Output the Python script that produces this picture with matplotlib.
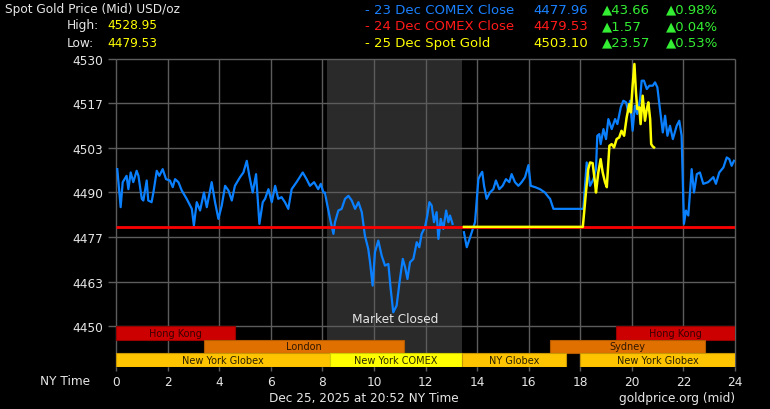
import numpy as np
import matplotlib
matplotlib.use("Agg")
import matplotlib.pyplot as plt

# ---------------- data ----------------
y_tick_values = [4530, 4516.67, 4503.33, 4490, 4476.67, 4463.33, 4450]
y_tick_labels = ["4530", "4517", "4503", "4490", "4477", "4463", "4450"]
x_tick_values = list(range(0, 25, 2))

prev_close = 4479.53   # 24 Dec COMEX close
closed_start, closed_end = 8.18, 13.42

blue_a_hours = [0.05, 0.18, 0.26, 0.41, 0.48, 0.57, 0.67, 0.80, 0.87, 1.00, 1.06, 1.19, 1.25,
                1.38, 1.45, 1.58, 1.68, 1.81, 1.94, 2.09, 2.20, 2.29, 2.42, 2.55, 2.74, 2.94,
                3.02, 3.13, 3.26, 3.41, 3.52, 3.71, 3.84, 3.97, 4.10, 4.23, 4.36, 4.49, 4.61,
                4.81, 4.94, 5.07, 5.17, 5.30, 5.43, 5.56, 5.69, 5.78, 5.91, 6.04, 6.17, 6.29,
                6.42, 6.55, 6.68, 6.81, 7.00, 7.24, 7.39, 7.52, 7.68, 7.84, 7.94, 8.04, 8.10,
                8.17, 8.30, 8.43, 8.49, 8.62, 8.75, 8.88, 9.01, 9.14, 9.27, 9.40, 9.53, 9.65,
                9.78, 9.85, 9.95, 10.04, 10.17, 10.30, 10.43, 10.56, 10.65, 10.75, 10.88,
                11.01, 11.12, 11.21, 11.30, 11.40, 11.53, 11.66, 11.76, 11.85, 11.98, 12.07,
                12.15, 12.24, 12.33, 12.43, 12.50, 12.59, 12.69, 12.80, 12.89, 12.95, 13.05]
blue_a_values = [4497.0, 4485.6, 4493.1, 4495.0, 4491.0, 4496.0, 4493.1, 4496.5, 4495.0, 4488.1,
                 4487.6, 4493.6, 4487.6, 4487.1, 4490.0, 4496.5, 4495.0, 4497.0, 4494.0, 4493.6,
                 4491.6, 4494.0, 4493.1, 4490.6, 4488.1, 4485.1, 4480.1, 4487.1, 4484.6, 4490.0,
                 4485.6, 4493.1, 4487.1, 4482.1, 4486.1, 4492.0, 4490.6, 4487.6, 4492.0, 4494.6,
                 4496.0, 4499.5, 4495.0, 4490.0, 4495.5, 4480.6, 4487.1, 4488.1, 4491.0, 4487.1,
                 4492.0, 4488.1, 4488.6, 4487.1, 4485.1, 4491.0, 4493.1, 4496.0, 4494.0, 4492.0,
                 4493.1, 4491.0, 4492.6, 4490.0, 4490.0, 4487.1, 4482.1, 4477.6, 4481.1, 4484.6,
                 4485.1, 4488.1, 4489.0, 4487.6, 4485.1, 4487.1, 4484.1, 4477.1, 4473.1, 4469.1,
                 4462.1, 4472.1, 4475.6, 4471.1, 4468.1, 4468.6, 4461.1, 4454.1, 4456.1, 4464.1,
                 4470.1, 4467.6, 4464.1, 4469.1, 4470.1, 4475.1, 4473.6, 4477.6, 4479.6, 4483.1,
                 4487.1, 4486.1, 4481.1, 4484.1, 4476.1, 4482.1, 4479.1, 4484.6, 4481.1, 4483.1,
                 4480.6]

blue_b_hours = [13.49, 13.60, 13.73, 13.92, 14.05, 14.14, 14.20, 14.27, 14.37, 14.50, 14.63,
                14.73, 14.86, 14.99, 15.12, 15.25, 15.34, 15.47, 15.60, 15.73, 15.86, 15.99,
                16.08, 16.25, 16.44, 16.63, 16.77, 16.83, 16.96, 18.12, 18.25, 18.38, 18.51,
                18.61, 18.66, 18.74, 18.79, 18.90, 19.00, 19.09, 19.22, 19.35, 19.44, 19.57,
                19.67, 19.78, 19.86, 19.93, 20.03, 20.12, 20.21, 20.32, 20.38, 20.47, 20.58,
                20.68, 20.81, 20.90, 20.99, 21.09, 21.20, 21.29, 21.38, 21.48, 21.59, 21.74,
                21.84, 21.93, 22.02, 22.10, 22.19, 22.32, 22.41, 22.52, 22.64, 22.77, 22.96,
                23.16, 23.26, 23.39, 23.55, 23.68, 23.78, 23.87, 23.96]
blue_b_values = [4478.1, 4473.6, 4476.6, 4481.1, 4494.0, 4495.5, 4496.2, 4492.0, 4488.1, 4490.0,
                 4491.0, 4493.6, 4491.0, 4492.0, 4494.0, 4493.1, 4495.5, 4493.1, 4492.0, 4493.1,
                 4494.6, 4498.2, 4492.0, 4491.6, 4491.0, 4490.0, 4488.6, 4488.1, 4485.1, 4485.1,
                 4499.0, 4492.0, 4494.0, 4497.0, 4507.0, 4507.5, 4504.5, 4509.0, 4506.0, 4512.0,
                 4509.0, 4512.0, 4510.5, 4515.5, 4517.5, 4517.0, 4514.0, 4517.5, 4508.5, 4516.0,
                 4513.5, 4518.0, 4523.5, 4523.5, 4521.0, 4522.0, 4522.0, 4523.0, 4521.5, 4515.0,
                 4508.0, 4513.0, 4507.0, 4510.0, 4506.0, 4510.0, 4511.5, 4507.0, 4480.6, 4484.6,
                 4483.1, 4497.0, 4490.0, 4495.5, 4496.0, 4492.6, 4493.1, 4494.6, 4492.6, 4496.0,
                 4497.5, 4500.5, 4500.0, 4498.0, 4499.5]

yellow_hours = [13.49, 18.10, 18.15, 18.22, 18.31, 18.38, 18.48, 18.57, 18.61, 18.70, 18.79,
                18.87, 18.96, 19.03, 19.13, 19.22, 19.31, 19.41, 19.51, 19.60, 19.70, 19.80,
                19.90, 19.96, 20.03, 20.10, 20.16, 20.21, 20.29, 20.34, 20.42, 20.51, 20.58,
                20.64, 20.71, 20.75, 20.81, 20.86]
yellow_values = [4479.7, 4479.7, 4484.0, 4490.0, 4497.0, 4499.0, 4498.8, 4493.1, 4490.0, 4496.0,
                 4500.0, 4496.0, 4493.1, 4491.6, 4504.0, 4504.5, 4503.5, 4506.0, 4506.5, 4508.5,
                 4507.0, 4512.5, 4516.5, 4514.0, 4522.0, 4528.5, 4520.0, 4515.0, 4515.5, 4510.5,
                 4519.0, 4511.5, 4515.0, 4517.0, 4512.0, 4504.5, 4503.8, 4503.5]

session_names = ["Hong Kong", "Hong Kong", "London", "Sydney",
                 "New York Globex", "New York COMEX", "NY Globex", "New York Globex"]
session_starts = [0.0, 19.39, 3.41, 16.83, 0.0, 8.30, 13.42, 18.0]
session_ends = [4.61, 24.0, 11.18, 22.85, 8.30, 13.42, 17.43, 24.0]
session_rows = [0, 0, 1, 1, 2, 2, 2, 2]

legend_labels = ["- 23 Dec COMEX Close", "- 24 Dec COMEX Close", "- 25 Dec Spot Gold"]
legend_prices = ["4477.96", "4479.53", "4503.10"]
legend_changes = ["\u25b243.66", "\u25b21.57", "\u25b223.57"]
legend_pcts = ["\u25b20.98%", "\u25b20.04%", "\u25b20.53%"]

high_value = "4528.95"
low_value = "4479.53"

# ---------------- styling ----------------
W, H = 770, 410
BG = "black"
GRID = "#5c5c5c"
TXT = "#e6e6e6"
BLUE = "#0a80ff"
RED = "#ff0000"
YEL = "#ffff00"
GREEN = "#33ee33"
FS = 8.7

fig = plt.figure(figsize=(W / 100, H / 100), dpi=100, facecolor=BG)
L, R, T, B = 116, 735, 60, 368
ax = fig.add_axes([L / W, (H - B) / H, (R - L) / W, (B - T) / H])
ax.set_facecolor(BG)
for s in ax.spines.values():
    s.set_visible(False)

ymax = 4530
per_px = 80 / 267.0
ymin = ymax - (B - T) * per_px
band_edges = [4450, ymax - (341 - T) * per_px, ymax - (354 - T) * per_px, ymin]
ax.set_xlim(0, 24)
ax.set_ylim(ymin, ymax)

# closed-market shade
ax.fill_between([closed_start, closed_end], band_edges[2], ymax, color="#2a2a2a", lw=0, zorder=0.2)

# grid
ax.vlines(x_tick_values, ymin, ymax, color=GRID, lw=1, zorder=0.5, clip_on=False)
ax.hlines(y_tick_values, 0, 24, color=GRID, lw=1, zorder=0.5, clip_on=False)

# sessions
face = {"Hong Kong": "#cc0000", "London": "#e07000", "Sydney": "#e07000",
        "New York Globex": "#ffc400", "New York COMEX": "#ffff00", "NY Globex": "#ffc400"}
edge = {"Hong Kong": "#990000", "London": "#b35a00", "Sydney": "#b35a00",
        "New York Globex": "#c89600", "New York COMEX": "#d0d000", "NY Globex": "#c89600"}
tcol = {"Hong Kong": "#3a0000", "London": "#301800", "Sydney": "#301800",
        "New York Globex": "#2a2000", "New York COMEX": "#2a2a00", "NY Globex": "#2a2000"}
for name, s0, s1, row in zip(session_names, session_starts, session_ends, session_rows):
    top, bot = band_edges[row], band_edges[row + 1]
    ax.bar(s0, top - bot, width=s1 - s0, bottom=bot, align="edge",
           color=face[name], edgecolor=edge[name], lw=0.8, zorder=2)
    ax.text((s0 + s1) / 2, (top + bot) / 2, name, ha="center", va="center",
            fontsize=7, color=tcol[name], zorder=3)

# lines
ax.plot(blue_a_hours, blue_a_values, color=BLUE, lw=1.6, zorder=3)
ax.plot(blue_b_hours, blue_b_values, color=BLUE, lw=1.6, zorder=3)
ax.hlines(prev_close, 0, 24, color=RED, lw=2, zorder=4)
ax.plot(yellow_hours, yellow_values, color=YEL, lw=1.8, zorder=5)

ax.text((closed_start + closed_end) / 2 + 0.02, 4452.2, "Market Closed", ha="center",
        va="center", fontsize=FS, color=TXT, zorder=6)

# ticks
ax.set_xticks(x_tick_values)
ax.set_xticklabels([str(v) for v in x_tick_values])
ax.set_yticks(y_tick_values)
ax.set_yticklabels(y_tick_labels)
ax.tick_params(axis="x", length=3, width=1, color=GRID, labelcolor=TXT, labelsize=FS, pad=3)
ax.tick_params(axis="y", length=6, width=1, color=GRID, labelcolor=TXT, labelsize=FS, pad=3)


def ftext(x, y, s, **kw):
    fig.text(x / W, 1 - y / H, s, va="center", **kw)


ftext(40, 382, "NY Time", fontsize=FS, color=TXT)
ftext(364, 399, "Dec 25, 2025 at 20:52 NY Time", fontsize=FS, color=TXT, ha="center")
ftext(735, 399, "goldprice.org (mid)", fontsize=FS, color=TXT, ha="right")

ftext(5, 9.5, "Spot Gold Price (Mid) USD/oz", fontsize=FS, color=TXT)
ftext(67, 25.5, "High:", fontsize=FS, color=TXT)
ftext(107, 25.5, high_value, fontsize=FS, color=YEL)
ftext(67, 43.5, "Low:", fontsize=FS, color=TXT)
ftext(107, 43.5, low_value, fontsize=FS, color=YEL)

row_cols = ["#1a80ff", "#ff1a1a", YEL]
row_y = [10, 26.7, 43.3]
for lab, pr, ch, pc, c, yy in zip(legend_labels, legend_prices, legend_changes, legend_pcts,
                                  row_cols, row_y):
    ftext(365, yy, lab, fontsize=9.5, color=c)
    ftext(533, yy, pr, fontsize=9.5, color=c)
    ftext(602, yy, ch, fontsize=9.5, color=GREEN)
    ftext(666, yy, pc, fontsize=9.5, color=GREEN)

fig.savefig("out.png", dpi=100, facecolor=BG)
